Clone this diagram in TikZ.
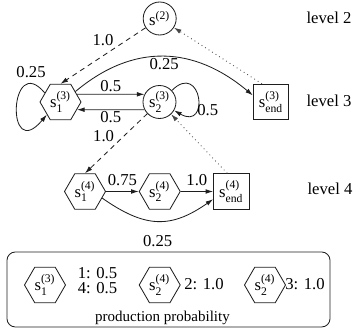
\documentclass[tikz,border=0pt]{standalone}
\usepackage{amsmath}
\usepackage{fontspec}
\setmainfont{Liberation Serif}
\usepackage{tikz}
\usetikzlibrary{
  arrows.meta,
  shapes.geometric
}
\usepackage{xcolor}
\definecolor{lineclr}{RGB}{30, 30, 30}
\definecolor{dotclr}{RGB}{70, 70, 70}
\newcommand{\sstate}[2]{s$^{\text{(#1)}}_{\text{#2}}$}
\tikzset{
  % Holatlar
  circnode/.style = {circle, draw=lineclr, line width=0.5pt, minimum size=19.8pt, inner sep=0pt},
  hexnode/.style  = {regular polygon, regular polygon sides=6, draw=lineclr, line width=0.5pt,
                     minimum size=24.6pt, inner sep=0pt},
  boxnode/.style  = {rectangle, draw=lineclr, line width=0.5pt, minimum size=21.3pt, inner sep=0pt},
  % O'qlar
  arr/.style      = {-{Latex[length=4.5pt, width=2.8pt]}, line width=0.5pt, draw=lineclr},
  dasharr/.style  = {arr, dash pattern=on 3pt off 2.5pt},
  dotarr/.style   = {arr, draw=dotclr, dotted},
  % Etiketlar
  lab/.style      = {inner sep=1pt},
  lvl/.style      = {inner sep=1pt},
}

\begin{document}
\begin{tikzpicture}[x=0.6pt, y=0.6pt]
  \useasboundingbox (0,0) rectangle (355,335);
  % Holatlar
  \node[circnode] (s2)  at (159.7,316.5) {s$^{\text{(2)}}$};
  \node[hexnode]  (s31) at (60.5,233)    {\sstate{3}{1}};
  \node[circnode] (s32) at (159.5,233)   {\sstate{3}{2}};
  \node[boxnode]  (se3) at (271,233)     {\sstate{3}{end}};
  \node[hexnode]  (s41) at (85,143.5)    {\sstate{4}{1}};
  \node[hexnode]  (s42) at (159.7,143.5) {\sstate{4}{2}};
  \node[boxnode]  (se4) at (231.3,143.5) {\sstate{4}{end}};
  % Daraja yozuvlari
  \node[lvl] (lv2) at (329,317.5) {level 2};
  \node[lvl] (lv3) at (329,234)   {level 3};
  \node[lvl] (lv4) at (330,146)   {level 4};
  % O'qlar
  \draw[dasharr] (s2) -- node[lab, midway, above=4.5pt] {1.0} (s31.north);
  \draw[dotarr] ([xshift=-5.4pt]se3.north) -- (s2);
  \draw[arr] (s31.35) to[out=40, in=140, looseness=1.1]
    node[lab, midway, below] {0.25} (se3.160);
  \draw[arr] (s31.150) .. controls +(130:55) and +(230:65) ..
    node[pos=0.15, above] {0.25} (s31.223);
  \draw[arr] (s31.25) -- node[lab, midway, above] {0.5} (s32.153);
  \draw[arr] (s32.207) -- node[lab, midway, below] {0.5} (s31.-25);
  \draw[arr] (s32.43) .. controls +(45:42) and +(-30:42) ..
    node[lab, pos=0.7, right] {0.5} (s32.-30);
  \draw[dasharr] (s32) -- node[lab, midway, above left] {1.0} (s41.north);
  \draw[dotarr] ([xshift=-2.4pt]se4.north) -- (s32);
  \draw[arr] (s41) -- node[midway, above] {0.75} (s42);
  \draw[arr] (s42) -- node[midway, above] {1.0} (se4);
  \draw[arr] (s41.-21) to[out=-35, in=-145, looseness=1.2]
    node[midway, below=5pt] {0.25} (se4.203);
  % Izoh qutisi
  \draw[lineclr, line width=0.5pt, rounded corners=5pt] (7,8) rectangle (330,83);
  \node[hexnode] (ls31)  at (45,50)    {\sstate{3}{1}};
  \node[lab, align=left] (lp1) at (97.5,54.5) {1: 0.5\\[-2.8pt]4: 0.5};
  \node[hexnode] (ls42a) at (159.7,50) {\sstate{4}{2}};
  \node[lab] (lp2) at (204,51) {2: 1.0};
  \node[hexnode] (ls42b) at (265,50)   {\sstate{4}{2}};
  \node[lab] (lp3) at (305,51) {3: 1.0};
  \node[lab, font=\small] (lcap) at (162.5,17.5) {production probability};
\end{tikzpicture}
\end{document}
